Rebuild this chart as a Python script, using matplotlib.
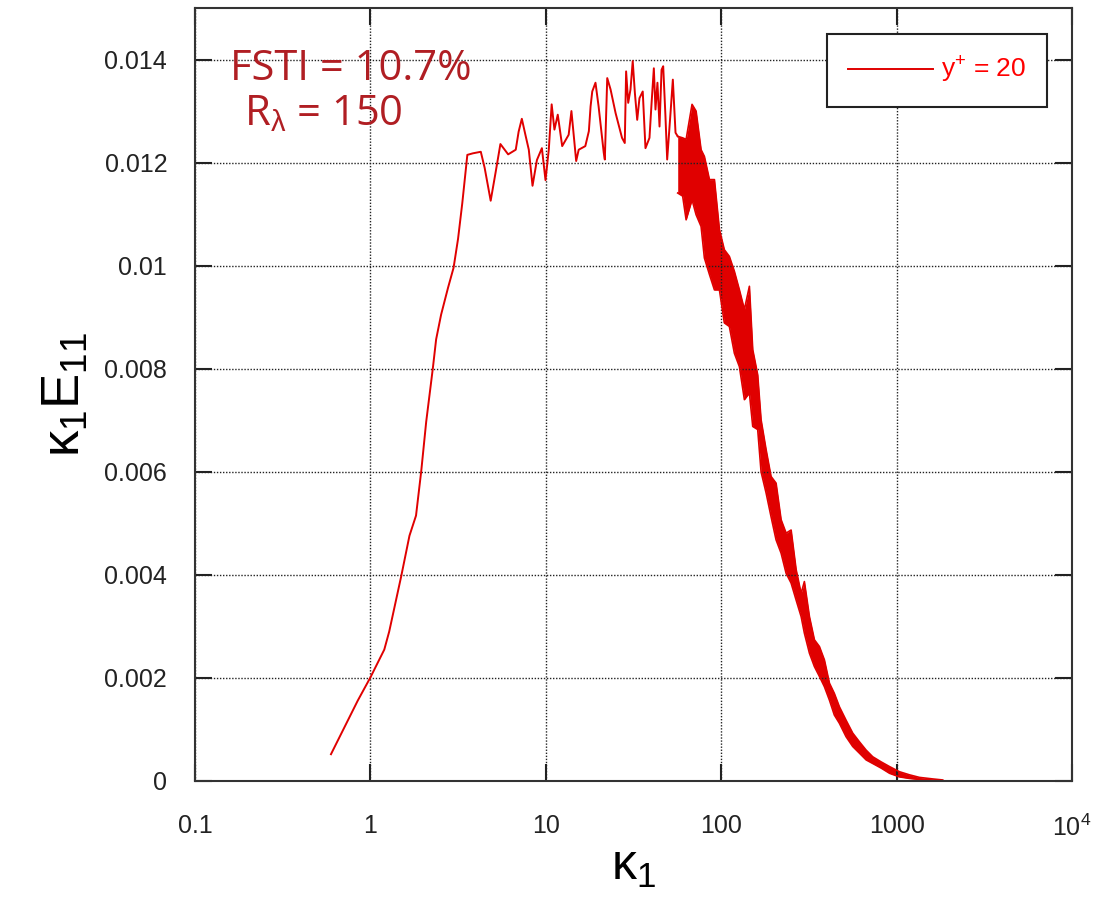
"""Streamwise spectrum k1*E11 vs k1 at y+ = 20 (FSTI = 10.7%)."""

import matplotlib

matplotlib.use("Agg")
import matplotlib.pyplot as plt

plt.rcParams["font.family"] = ["Liberation Sans", "DejaVu Sans"]
plt.rcParams["mathtext.fontset"] = "custom"
plt.rcParams["mathtext.rm"] = "Liberation Sans"
plt.rcParams["mathtext.it"] = "Liberation Sans"

# low-wavenumber part of the spectrum (single trace)
k_low = [0.596, 0.847, 1.0, 1.20, 1.28, 1.50, 1.67, 1.82, 1.95, 2.08, 2.27, 2.37,
         2.53, 2.77, 2.98, 3.16, 3.34, 3.57, 3.84, 4.26, 4.48, 4.85, 5.18, 5.51,
         6.10, 6.74, 7.0, 7.3, 7.65, 8.0, 8.4, 8.9, 9.5, 9.96, 10.4, 10.8, 11.2,
         11.7, 12.4, 13.5, 14.0, 14.9, 15.4, 16.8, 17.6, 18.0, 18.4, 19.2, 20.0,
         21.4, 21.7, 22.4, 23.4, 25.0, 27.2, 28.2, 28.7, 29.5, 30.4, 31.3, 32.2,
         33.2, 34.2, 35.7, 37.0, 39.0, 40.1, 41.3, 42.2, 43.3, 44.5, 45.7, 46.7,
         48.1, 49.2, 51.4, 53.0, 54.9, 56.5]
e_low = [0.00052, 0.00156, 0.00201, 0.00255, 0.0029, 0.00398, 0.00476, 0.00515,
         0.00602, 0.00697, 0.00801, 0.00857, 0.00905, 0.00957, 0.00996, 0.01052,
         0.01121, 0.01215, 0.01218, 0.01221, 0.0119, 0.01126, 0.01182, 0.01236,
         0.01216, 0.01225, 0.0126, 0.01285, 0.01254, 0.01225, 0.01155, 0.01205,
         0.01228, 0.01166, 0.01225, 0.01313, 0.01264, 0.01293, 0.01232, 0.01254,
         0.0130, 0.01203, 0.01225, 0.01232, 0.01261, 0.01309, 0.01338, 0.01355,
         0.01309, 0.01219, 0.01206, 0.01364, 0.01342, 0.01296, 0.01248, 0.01238,
         0.01377, 0.01316, 0.01342, 0.01397, 0.01335, 0.01283, 0.01325, 0.01338,
         0.01228, 0.01248, 0.01316, 0.01383, 0.01303, 0.01355, 0.0127, 0.0138,
         0.01387, 0.0129, 0.01206, 0.01296, 0.01361, 0.01258, 0.01251]

# high-wavenumber part: dense noisy trace, given as lower / upper envelope
k_band = [56.5, 60.3, 63.1, 68.2, 71.9, 76.8, 80.2, 85.7, 91.5, 97.7, 104.2, 111.3,
          118.9, 127.0, 135.6, 144.8, 151.3, 161.5, 168.8, 180.3, 192.4, 205.5,
          219.6, 234.5, 250.4, 267.5, 285.6, 298.0, 318.5, 340.0, 363.0, 387.6,
          414.0, 441.6, 472.0, 515.0, 562.0, 614.0, 670.0, 731.0, 817.0, 911.0,
          1038.0, 1183.0, 1349.0, 1607.0, 1832.0]
e_hi = [0.01251, 0.01248, 0.01245, 0.01313, 0.0130, 0.01225, 0.01212, 0.01167,
        0.01167, 0.0107, 0.01031, 0.01018, 0.00989, 0.00953, 0.00915, 0.0096,
        0.00837, 0.00788, 0.00701, 0.00643, 0.00591, 0.00578, 0.00507, 0.00481,
        0.00487, 0.0041, 0.00364, 0.00387, 0.00319, 0.00274, 0.00261, 0.00235,
        0.0019, 0.0017, 0.00144, 0.00118, 0.00093, 0.00076, 0.0006, 0.00047,
        0.00037, 0.00028, 0.00018, 0.00012, 0.00007, 0.00004, 0.00002]
e_lo = [0.01141, 0.01135, 0.01089, 0.01128, 0.01099, 0.01076, 0.01015, 0.00983,
        0.00953, 0.00953, 0.00889, 0.00882, 0.0083, 0.00804, 0.0074, 0.00753,
        0.00688, 0.00682, 0.006, 0.00559, 0.00513, 0.00468, 0.00442, 0.00403,
        0.00384, 0.00351, 0.00319, 0.00287, 0.00248, 0.00222, 0.00203, 0.00183,
        0.00157, 0.00128, 0.00112, 0.00086, 0.00067, 0.00054, 0.00041, 0.00034,
        0.00025, 0.00015, 0.00008, 0.00005, 0.00003, 0.00001, 0.0]

y_ticks = [0, 0.002, 0.004, 0.006, 0.008, 0.01, 0.012, 0.014]
y_labels = ["0", "0.002", "0.004", "0.006", "0.008", "0.01", "0.012", "0.014"]
x_ticks = [0.1, 1, 10, 100, 1000, 10000]
x_labels = ["0.1", "1", "10", "100", "1000", "$10^4$"]

line_color = "#e00000"

fig = plt.figure(figsize=(11.06, 8.99), dpi=100)
ax = fig.add_axes([195 / 1106, 118 / 899, 877 / 1106, 773 / 899])

ax.plot(k_low, e_low, color=line_color, linewidth=1.4, label="y$^{+}$ = 20")
ax.fill_between(k_band, e_lo, e_hi, color=line_color, linewidth=0)
ax.plot(k_band, e_hi, color=line_color, linewidth=1.2)
ax.plot(k_band, e_lo, color=line_color, linewidth=1.2)

ax.set_xscale("log")
ax.set_xlim(0.1, 10000)
ax.set_ylim(0, 0.015)
ax.set_xticks(x_ticks)
ax.set_xticklabels(x_labels)
ax.set_yticks(y_ticks)
ax.set_yticklabels(y_labels)
ax.minorticks_off()

ax.tick_params(direction="in", length=12, width=1.5, colors="#222222",
               top=True, right=True, labelsize=18)
ax.tick_params(axis="y", pad=20)
ax.tick_params(axis="x", pad=24)
for spine in ax.spines.values():
    spine.set_linewidth(1.5)
    spine.set_color("#333333")

ax.grid(True, which="major", color="#222222", linestyle=(0, (1, 1.2)), linewidth=1.0)

ax.set_xlabel(r"$\kappa_1$", fontsize=36, labelpad=2)
ax.set_ylabel(r"$\kappa_1 E_{11}$", fontsize=38, labelpad=10)

# annotation text
fig.text(230 / 1106, 1 - 80 / 899, "FSTI = 10.7%", fontsize=30, color="#b01e23",
         family="Open Sans", va="baseline")
fig.text(244 / 1106, 1 - 125 / 899, r"R$_\lambda$ = 150", fontsize=30, color="#b01e23",
         family="Open Sans", va="baseline")

leg = ax.legend(loc="upper right", bbox_to_anchor=(1047 / 1106, 1 - 34 / 899),
                bbox_transform=fig.transFigure, borderaxespad=0, fontsize=19,
                handlelength=3.2, handletextpad=0.3, borderpad=0.8,
                fancybox=False, framealpha=1, edgecolor="#222222")
leg.get_frame().set_linewidth(1.5)
for txt in leg.get_texts():
    txt.set_color("#ff0000")

fig.savefig("out.png", dpi=100)
